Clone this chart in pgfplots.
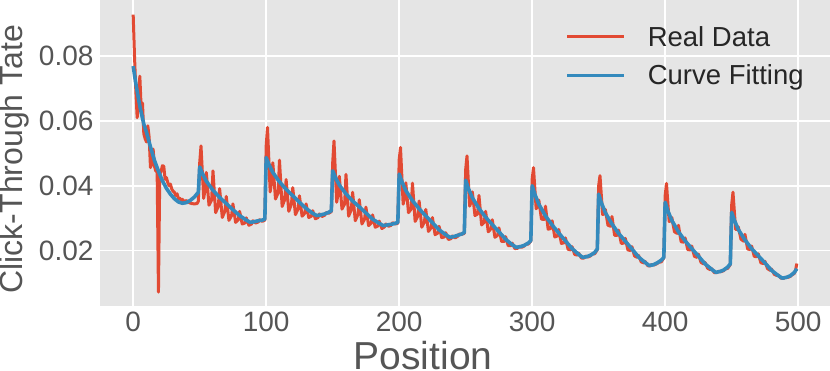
\documentclass[border=0pt]{standalone}
\usepackage{fontspec}
\setmainfont{Liberation Sans}
\usepackage{pgfplots}
\pgfplotsset{compat=1.18}
\definecolor{bg}{HTML}{E5E5E5}
\definecolor{ggred}{HTML}{E24A33}
\definecolor{ggblue}{HTML}{348ABD}
\definecolor{lab}{HTML}{555555}
\begin{document}
\begin{tikzpicture}
\begin{axis}[scale only axis, width=730pt, height=306pt,
  xmin=-24.95, xmax=523.95, ymin=0.0029, ymax=0.0973,
  axis background/.style={fill=bg}, axis line style={draw=none},
  major tick length=0pt, grid=major, grid style={white, line width=1.6pt},
  xtick={0,100,200,300,400,500}, xticklabels={0,100,200,300,400,500},
  ytick={0.02,0.04,0.06,0.08}, yticklabels={0.02,0.04,0.06,0.08},
  tick label style={font=\fontsize{28}{30}\selectfont, text=lab},
  yticklabel style={xshift=-3pt}, xticklabel style={yshift=-2pt},
  xlabel={Position}, ylabel={Click-Through Tate},
  xlabel style={font=\fontsize{39}{42}\selectfont, text=lab,
    at={(axis description cs:0.4425,0)}, anchor=center, yshift=-50pt},
  ylabel style={font=\fontsize{32}{36}\selectfont, text=lab,
    at={(axis description cs:-0.118,0.48)}, anchor=center},
  legend style={at={(axis description cs:0.637,0.915)}, anchor=north west,
    draw=none, fill=none, inner sep=0pt, row sep=17pt,
    font=\fontsize{27.5}{30}\selectfont, text=black!85,
    nodes={inner sep=0pt}},
  legend cell align=left,
  /tikz/every odd column/.append style={column sep=22pt},
  legend image code/.code={\draw[#1] (0pt,0pt) -- (57pt,0pt);},
  every axis plot/.append style={line join=round}]
% real data
\addplot[ggred, line width=3pt] coordinates {
(0,.0928) (1,.080) (2,.0692) (3,.061) (4,.066) (5,.0738) (6,.064) (7,.0655)
(8,.056) (9,.0545) (10,.0535) (11,.0585) (12,.055) (13,.0456) (14,.047)
(15,.0513) (16,.046) (17,.0445) (18,.045) (19,.0072) (20,.0436) (21,.0445)
(22,.0462) (23,.046) (24,.042) (25,.0425) (26,.041) (27,.040) (28,.0405)
(29,.039) (30,.0383) (31,.038) (32,.037) (33,.0375) (34,.036) (35,.0362)
(36,.0355) (37,.0358) (38,.0352) (40,.0354) (42,.0348) (44,.0345) (46,.0344)
(48,.0345) (49,.0352)
(50,.047) (51,.0523) (53,.0361) (54,.0386) (55,.0441) (57,.0340) (59,.0356)
(60,.0446) (62,.0317) (64,.0337) (65,.0391) (67,.0302) (69,.0322) (70,.0367)
(72,.0293) (74,.0308) (75,.0344) (77,.0287) (79,.0295) (80,.0321) (82,.0282)
(84,.0285) (85,.0301) (87,.0278) (89,.0282) (90,.0292) (92,.0285) (94,.0288)
(95,.0295) (97,.0290) (99,.0294)
(100,.0523) (101,.058) (103,.0381) (104,.0409) (105,.0471) (107,.0359)
(109,.0378) (110,.0479) (112,.0336) (114,.0358) (115,.0419) (117,.0321)
(119,.0343) (120,.0394) (122,.0311) (124,.0328) (125,.0369) (127,.0306)
(129,.0315) (130,.0344) (132,.0302) (134,.0306) (135,.0323) (137,.0298)
(139,.0302) (140,.0313) (142,.0305) (144,.0309) (145,.0317) (147,.0315)
(149,.0320)
(150,.047) (151,.0538) (153,.0349) (154,.0374) (155,.0429) (157,.0328)
(159,.0344) (160,.0435) (162,.0306) (164,.0326) (165,.0380) (167,.0292)
(169,.0311) (170,.0357) (172,.0282) (174,.0297) (175,.0334) (177,.0277)
(179,.0285) (180,.0310) (182,.0272) (184,.0276) (185,.0291) (187,.0268)
(189,.0273) (190,.0282) (192,.0275) (194,.0278) (195,.0286) (197,.0282)
(199,.0284)
(200,.048) (201,.0518) (203,.0343) (204,.0363) (205,.0409) (207,.0317)
(209,.0328) (210,.0408) (212,.0290) (214,.0306) (215,.0353) (217,.0272)
(219,.0288) (220,.0327) (222,.0259) (224,.0270) (225,.0302) (227,.0249)
(229,.0254) (230,.0275) (232,.0240) (234,.0242) (235,.0255) (237,.0234)
(239,.0237) (240,.0245) (242,.0239) (244,.0244) (245,.0251) (247,.0250)
(249,.0253)
(250,.045) (251,.0492) (253,.0337) (254,.0349) (255,.0381) (257,.0308)
(259,.0313) (260,.0370) (262,.0279) (264,.0288) (265,.0321) (267,.0258)
(269,.0267) (270,.0295) (272,.0241) (274,.0247) (275,.0270) (277,.0228)
(279,.0228) (280,.0243) (282,.0215) (284,.0215) (285,.0223) (287,.0206)
(289,.0207) (290,.0213) (292,.0210) (294,.0214) (295,.0219) (297,.0220)
(299,.0229)
(300,.042) (301,.0456) (303,.0329) (304,.0335) (305,.0356) (307,.0297)
(309,.0296) (310,.0337) (312,.0266) (314,.0268) (315,.0292) (317,.0242)
(319,.0245) (320,.0265) (322,.0222) (324,.0224) (325,.0239) (327,.0204)
(329,.0202) (330,.0212) (332,.0188) (334,.0186) (335,.0192) (337,.0177)
(339,.0177) (340,.0183) (342,.0180) (344,.0184) (345,.0189) (347,.0190)
(349,.0203)
(350,.040) (351,.0431) (353,.0311) (354,.0313) (355,.0327) (357,.0278)
(359,.0275) (360,.0305) (362,.0247) (364,.0247) (365,.0263) (367,.0222)
(369,.0223) (370,.0238) (372,.0202) (374,.0200) (375,.0212) (377,.0183)
(379,.0179) (380,.0185) (382,.0165) (384,.0162) (385,.0166) (387,.0153)
(389,.0153) (390,.0157) (392,.0156) (394,.0160) (395,.0164) (397,.0165)
(399,.0177)
(400,.037) (401,.0407) (403,.0290) (404,.0291) (405,.0302) (407,.0258)
(409,.0253) (410,.0278) (412,.0227) (414,.0226) (415,.0239) (417,.0203)
(419,.0202) (420,.0214) (422,.0182) (424,.0179) (425,.0189) (427,.0163)
(429,.0159) (430,.0163) (432,.0145) (434,.0141) (435,.0144) (437,.0132)
(439,.0132) (440,.0136) (442,.0135) (444,.0138) (445,.0143) (447,.0145)
(449,.0157)
(450,.034) (451,.038) (453,.0265) (454,.0265) (455,.0273) (457,.0235)
(459,.0229) (460,.0250) (462,.0205) (464,.0203) (465,.0214) (467,.0182)
(469,.0181) (470,.0190) (472,.0162) (474,.0160) (475,.0167) (477,.0144)
(479,.0139) (480,.0143) (482,.0127) (484,.0123) (485,.0125) (487,.0115)
(489,.0114) (490,.0117) (492,.0117) (494,.0120) (495,.0124) (497,.0129)
(498,.0138) (499,.0160)};
\addlegendentry{Real Data}
% fitted curve
\addplot[ggblue, line width=3.6pt] coordinates {
(0,.0769) (2,.0715) (5,.0645) (8,.0590) (10,.0565) (13,.0520) (16,.0478)
(19,.0445) (22,.0415) (25,.0392) (28,.0374) (31,.0360) (34,.0350) (37,.0346)
(40,.0348) (43,.0355) (46,.0365) (49,.0380)
(50,.0458) (52,.0438) (55,.0414) (60,.0386) (65,.0364) (70,.0345) (75,.0326)
(80,.0308) (85,.0294) (88,.0287) (91,.0289) (94,.0292) (97,.0294) (99,.0297)
(100,.0487) (102,.0466) (105,.0441) (110,.0412) (115,.0389) (120,.0369)
(125,.0349) (130,.0330) (135,.0315) (138,.0308) (141,.0310) (144,.0313)
(147,.0318) (149,.0323)
(150,.0446) (152,.0426) (155,.0402) (160,.0375) (165,.0353) (170,.0335)
(175,.0316) (180,.0297) (185,.0284) (188,.0277) (191,.0279) (194,.0281)
(197,.0284) (199,.0287)
(200,.0436) (202,.0413) (205,.0385) (210,.0354) (215,.0329) (220,.0307)
(225,.0286) (230,.0264) (235,.0249) (238,.0241) (241,.0243) (244,.0247)
(247,.0251) (249,.0256)
(250,.0417) (252,.0392) (255,.0363) (260,.0330) (265,.0303) (270,.0280)
(275,.0258) (280,.0235) (285,.0218) (288,.0210) (291,.0212) (294,.0216)
(297,.0223) (299,.0231)
(300,.0400) (302,.0374) (305,.0343) (310,.0307) (315,.0279) (320,.0254)
(325,.0230) (330,.0206) (335,.0188) (338,.0179) (341,.0181) (344,.0186)
(347,.0194) (349,.0205)
(350,.0374) (352,.0348) (355,.0317) (360,.0282) (365,.0253) (370,.0229)
(375,.0205) (380,.0180) (385,.0163) (388,.0154) (391,.0156) (394,.0162)
(397,.0170) (399,.0179)
(400,.0349) (402,.0323) (405,.0293) (410,.0258) (415,.0230) (420,.0206)
(425,.0183) (430,.0159) (435,.0142) (438,.0133) (441,.0135) (444,.0140)
(447,.0149) (449,.0159)
(450,.0318) (452,.0294) (455,.0265) (460,.0233) (465,.0206) (470,.0184)
(475,.0162) (480,.0139) (485,.0123) (488,.0115) (491,.0117) (494,.0122)
(497,.0132) (499,.0144)};
\addlegendentry{Curve Fitting}
\end{axis}
\pgfresetboundingbox
\path[use as bounding box] ([xshift=-100pt,yshift=-64pt]current axis.south west)
  rectangle ++(830pt,370pt);
\end{tikzpicture}
\end{document}
